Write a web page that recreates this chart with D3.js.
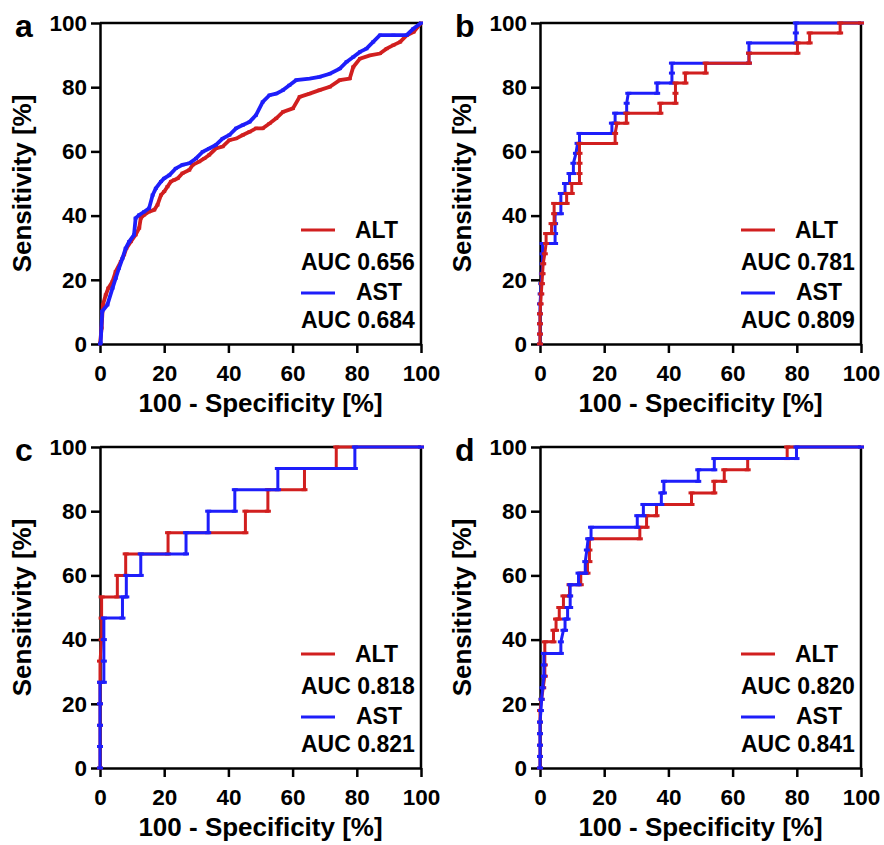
<!DOCTYPE html>
<html><head><meta charset="utf-8">
<script src="https://cdn.jsdelivr.net/npm/d3@7"></script>
<style>
body{margin:0;background:#fff}
text{font-family:"Liberation Sans",Arial,sans-serif;font-weight:bold;fill:#000}
</style></head><body>
<svg id="chart" width="884" height="845"></svg>
<script>
// ---- data (100 - specificity [%], sensitivity [%]) ----
const panelNames = ["a", "b", "c", "d"];
const aucAlt = ["0.656", "0.781", "0.818", "0.820"];
const aucAst = ["0.684", "0.809", "0.821", "0.841"];
const ticks = [0, 20, 40, 60, 80, 100];

const aAltX = [0,0.5,0.9,1.8,2.6,3.9,4.9,6.5,7.5,8.2,9.6,11.1,12.2,12.7,13.75,15.3,16.9,17.9,19,20,21,22.1,23.1,24.2,25.7,27.8,28.9,30.9,32.5,34,36.1,38.2,40.3,42.4,44.5,46.6,48.6,50.7,52.8,54.9,57,60.1,62.2,65.3,68.4,71.6,74.7,77.8,78.9,81,84.1,87.2,89.3,91.4,93.5,95.6,97.7,100];
const aAltY = [0,5,12.2,15.3,17.4,19.5,22.6,25.7,27.8,29.8,31.9,34,36.1,39.2,40.2,41.2,41.8,43.3,46.4,47.5,49,50.6,51.1,51.6,53.2,54.2,55.8,56.8,57.8,58.9,60.9,61.5,63.5,64,65.1,66.1,67.2,67.2,68.7,70.3,72.3,73.4,77,78,79.1,80.1,82.2,82.7,86.3,88.9,89.9,90.5,92,93.1,94.1,96.2,97.2,100];
const aAstX = [0,0.2,0.7,2.3,3.9,4.9,5.9,7,8,9.1,10.6,11.1,12.2,13.75,15.3,16.4,17.4,19,20,21.6,23.6,25.7,27.8,29.9,32,34,36.1,38.2,40.3,42.4,44.5,46.6,48.6,50.7,52.8,54.9,57,59,61.1,65.3,68.4,71.6,74.7,76.8,78.9,81,83,85.1,87.2,91.4,95.5,97.6,100];
const aAstY = [0,0.3,10.2,12.2,17.4,20.5,23.6,26.7,29.8,31.9,34,39.2,40.2,41.2,42.3,46.4,48.5,50.6,51.6,52.6,54.7,55.8,56.3,57.8,59.9,60.9,62,64,65.1,67.2,68.2,69.2,71.3,75.4,77.5,78,79.1,80.6,82.2,82.7,83.2,84.2,85.8,87.9,89.4,91,92,94.1,96.2,96.2,96.2,98.2,100];

const bAltX = [0,0,0,0,0.2,0.4,0.6,0.8,1,1.5,1.9,1.9,3.6,3.6,4.4,4.4,4.4,8.3,8.3,9.9,9.9,12.3,12.3,12.3,12.3,12.3,23.4,23.4,24,26.9,26.9,37.5,37.5,42.2,42.2,42.2,45.3,45.3,51.6,51.6,65.1,65.1,80.2,80.2,84,84,93.5,93.5,100];
const bAltY = [0,3.1,6.3,9.4,12.5,15.6,18.8,21.9,25,28.1,31.3,34.4,34.4,37.5,37.5,40.6,43.8,43.8,46.9,46.9,50,50,53.1,56.3,59.4,62.5,62.5,65.6,68.8,68.8,71.9,71.9,75,75,78.1,81.3,81.3,84.4,84.4,87.5,87.5,90.6,90.6,93.8,93.8,96.9,96.9,100,100];
const bAstX = [0,0,0,0,0,0.2,0.4,0.6,0.8,0.8,0.8,4.7,4.7,4.7,4.7,6.5,6.5,6.5,7.8,7.8,9.2,9.2,10.4,10.4,11.2,11.7,12.3,12.3,22.4,22.4,23.4,23.4,27,27,27.5,36.5,36.5,41.1,41.1,41.1,65.1,65.1,65.1,79.7,79.7,79.7,100];
const bAstY = [0,3.1,6.3,9.4,12.5,15.6,18.8,21.9,25,28.1,31.3,31.3,34.4,37.5,40.6,40.6,43.8,46.9,46.9,50,50,53.1,53.1,56.3,59.4,62.5,62.5,65.6,65.6,68.8,68.8,71.9,71.9,75,78.1,78.1,81.3,81.3,84.4,87.5,87.5,90.6,93.8,93.8,96.9,100,100];

const cAltX = [0,0,0,0,0,0,0.5,0.5,0.5,5.4,5.4,8,8,21.2,21.2,45.3,45.3,52.3,52.3,63.7,63.7,73.6,73.6,100];
const cAltY = [0,6.7,13.3,20,26.7,33.3,40,46.7,53.3,53.3,60,60,66.7,66.7,73.3,73.3,80,80,86.7,86.7,93.3,93.3,100,100];
const cAstX = [0,0,0,0,0,1.2,1.2,1.2,1.2,7,7,8.2,8.2,12.7,12.7,26.8,26.8,33.7,33.7,42,42,55.4,55.4,79.4,79.4,100];
const cAstY = [0,6.7,13.3,20,26.7,26.7,33.3,40,46.7,46.7,53.3,53.3,60,60,66.7,66.7,73.3,73.3,80,80,86.7,86.7,93.3,93.3,100,100];

const dAltX = [0,0,0,0,0,0,0.5,1,1.5,1.5,1.5,1.5,4.2,4.2,5,5,6,6,7.3,7.3,9.2,9.2,12.7,12.7,14.8,14.8,15.4,15.4,15.4,31.1,31.1,33.2,33.2,36.3,36.3,47.2,47.2,54.3,54.3,57.4,57.4,64.7,64.7,77,77,100];
const dAltY = [0,3.6,7.1,10.7,14.3,17.9,21.4,25,28.6,32.1,35.7,39.3,39.3,42.9,42.9,46.4,46.4,50,50,53.6,53.6,57.1,57.1,60.7,60.7,64.3,64.3,67.9,71.4,71.4,75,75,78.6,78.6,82.1,82.1,85.7,85.7,89.3,89.3,92.9,92.9,96.4,96.4,100,100];
const dAstX = [0,0,0,0,0,0.3,0.5,0.8,1.2,1.2,1.2,6.5,6.5,7.3,7.8,7.8,8.6,8.6,9.4,9.4,9.4,12,12,14.1,14.1,14.6,15,15.9,15.9,30.3,30.3,32.2,32.2,37.8,37.8,38.6,38.6,49.3,49.3,54.3,54.3,79.9,79.9,100];
const dAstY = [0,3.6,7.1,10.7,14.3,17.9,21.4,25,28.6,32.1,35.7,35.7,39.3,42.9,42.9,46.4,46.4,50,50,53.6,57.1,57.1,60.7,60.7,64.3,67.9,71.4,71.4,75,75,78.6,78.6,82.1,82.1,85.7,85.7,89.3,89.3,92.9,92.9,96.4,96.4,100,100];

const red = "#d11f1f", blue = "#1e1efa";

const svg = d3.select("#chart");
const W = 321, H = 321;

function zip(xs, ys) { return xs.map((x, i) => [x, ys[i]]); }

const panels = [
  {ox: 100, oy: 23, alt: zip(aAltX, aAltY), ast: zip(aAstX, aAstY), dense: true, redTop: false},
  {ox: 540, oy: 23, alt: zip(bAltX, bAltY), ast: zip(bAstX, bAstY), dense: false, redTop: true},
  {ox: 100, oy: 447, alt: zip(cAltX, cAltY), ast: zip(cAstX, cAstY), dense: false, redTop: false},
  {ox: 540, oy: 447, alt: zip(dAltX, dAltY), ast: zip(dAstX, dAstY), dense: false, redTop: false}
];

panels.forEach(function(p, i) {
  const x = d3.scaleLinear().domain([0, 100]).range([p.ox, p.ox + W]);
  const y = d3.scaleLinear().domain([0, 100]).range([p.oy + H, p.oy]);
  const g = svg.append("g");

  // frame (top / right)
  g.append("line").attr("x1", x(0)).attr("x2", x(100)).attr("y1", y(100)).attr("y2", y(100))
    .attr("stroke", "#000").attr("stroke-width", 2.5);
  g.append("line").attr("x1", x(100)).attr("x2", x(100)).attr("y1", y(0)).attr("y2", y(100))
    .attr("stroke", "#000").attr("stroke-width", 2.5);

  let yAx = g.append("g").attr("transform", "translate(" + p.ox + ",0)")
    .call(d3.axisLeft(y).tickValues(ticks).tickSize(9).tickSizeOuter(0).tickPadding(4));
  let xAx = g.append("g").attr("transform", "translate(0," + (p.oy + H) + ")")
    .call(d3.axisBottom(x).tickValues(ticks).tickSize(9).tickSizeOuter(0).tickPadding(12));
  [yAx, xAx].forEach(function(ax) {
    ax.selectAll("path,line").attr("stroke", "#000").attr("stroke-width", 2.5);
    ax.selectAll("text").style("font-size", "22.5px").style("font-family", "'Liberation Sans',Arial,sans-serif")
      .style("font-weight", "bold").attr("fill", "#000");
  });

  g.append("text").attr("x", p.ox - 85).attr("y", p.oy + 14).style("font-size", "32px").text(panelNames[i]);

  g.append("text").attr("transform", "translate(" + (p.ox - 69) + "," + (p.oy + H / 2) + ") rotate(-90)")
    .attr("text-anchor", "middle").style("font-size", "26px").text("Sensitivity [%]");
  g.append("text").attr("x", p.ox + W / 2).attr("y", p.oy + H + 68)
    .attr("text-anchor", "middle").style("font-size", "26px").text("100 - Specificity [%]");

  // curves
  const line = d3.line().x(d => x(d[0])).y(d => y(d[1]));
  const series = p.redTop ? [[p.ast, blue], [p.alt, red]] : [[p.alt, red], [p.ast, blue]];
  series.forEach(function(s) {
    g.append("path").datum(s[0]).attr("d", line).attr("fill", "none")
      .attr("stroke", s[1]).attr("stroke-width", p.dense ? 3.8 : 3).attr("stroke-linejoin", "miter");
    g.append("g").selectAll("line").data(s[0]).enter().append("line")
      .attr("x1", d => x(d[0]) - (p.dense ? 2 : 3)).attr("x2", d => x(d[0]) + (p.dense ? 2 : 3))
      .attr("y1", d => y(d[1])).attr("y2", d => y(d[1]))
      .attr("stroke", s[1]).attr("stroke-width", 3);
  });

  // legend
  const lx = p.ox + 201, base = p.oy + H;
  g.append("line").attr("x1", lx).attr("x2", lx + 34).attr("y1", base - 114).attr("y2", base - 114)
    .attr("stroke", red).attr("stroke-width", 3);
  g.append("text").attr("x", lx + 54).attr("y", base - 106).style("font-size", "23px").text("ALT");
  g.append("text").attr("x", lx).attr("y", base - 74).style("font-size", "23px").text("AUC " + aucAlt[i]);
  g.append("line").attr("x1", lx).attr("x2", lx + 34).attr("y1", base - 51).attr("y2", base - 51)
    .attr("stroke", blue).attr("stroke-width", 3);
  g.append("text").attr("x", lx + 55).attr("y", base - 44).style("font-size", "23px").text("AST");
  g.append("text").attr("x", lx).attr("y", base - 16).style("font-size", "23px").text("AUC " + aucAst[i]);
});
</script></body></html>
